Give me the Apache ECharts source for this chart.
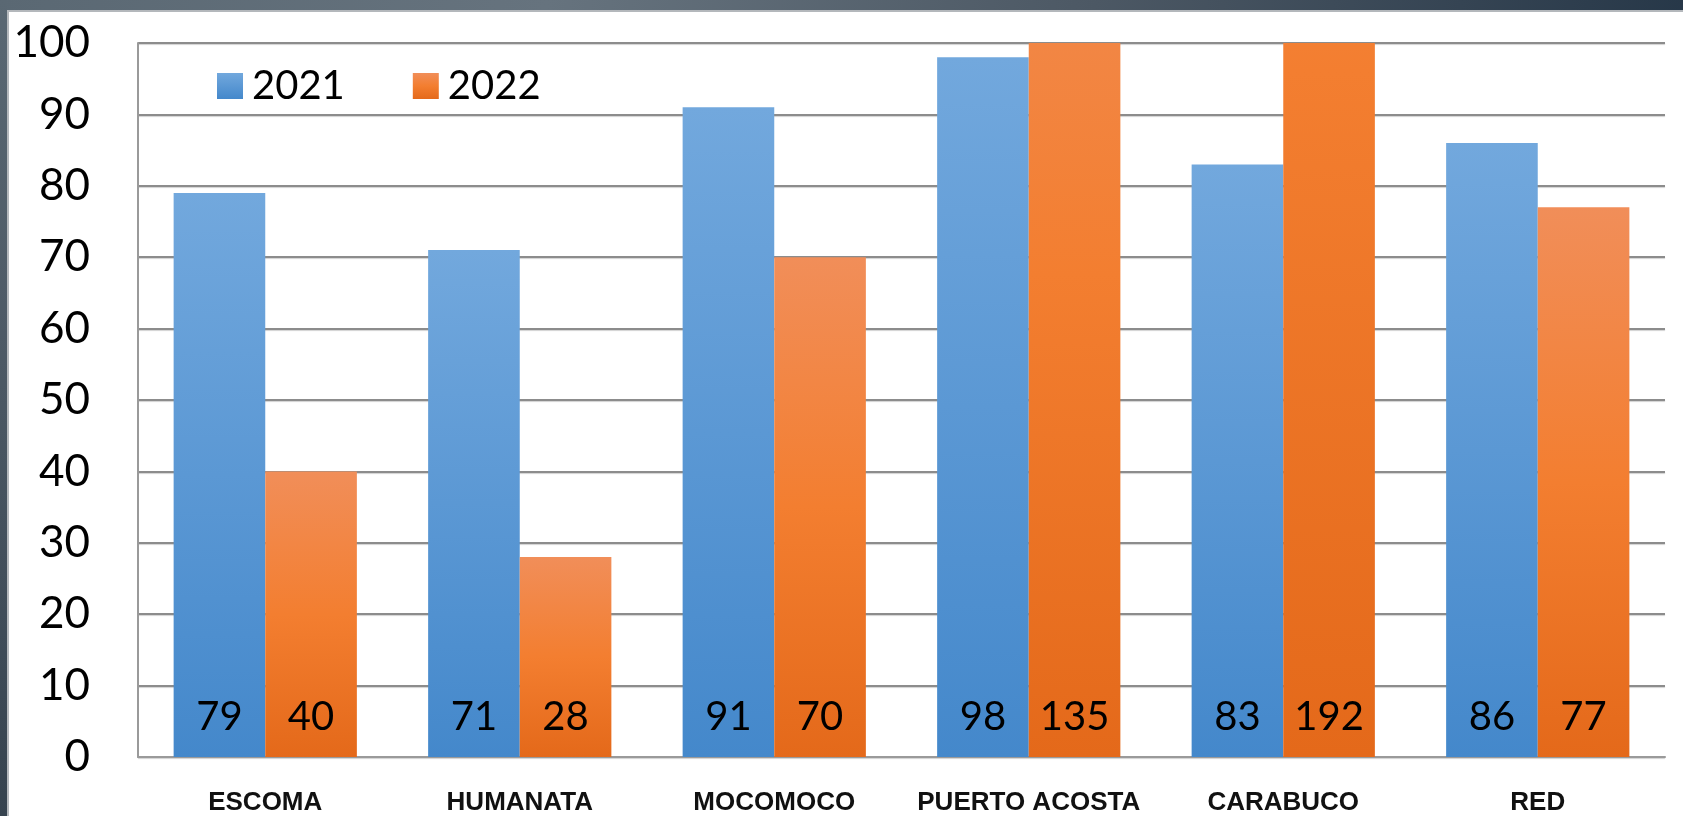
<!DOCTYPE html>
<html>
<head>
<meta charset="utf-8">
<script src="https://cdn.jsdelivr.net/npm/echarts@6/dist/echarts.min.js"></script>
<style>
  html, body { margin: 0; padding: 0; width: 1683px; height: 816px; overflow: hidden; }
  body { background: linear-gradient(100deg, #5A6873 0%, #66737E 30%, #4C5864 60%, #1E3042 100%); position: relative; }
  #panel { position: absolute; left: 7px; top: 10px; right: 0; bottom: 0; background: #ffffff; border-left: 2px solid #B4B8BC; border-top: 2px solid #B4B8BC; }
  #left { position: absolute; left: 0; top: 0; width: 7px; height: 816px; background: linear-gradient(180deg, #5A6873 0%, #4A5763 50%, #36434F 100%); }
  #chart { position: absolute; left: 0; top: 0; width: 1683px; height: 816px; }
</style>
</head>
<body>
<div id="left"></div>
<div id="panel"></div>
<div id="chart"></div>
<script>
const categories = ['ESCOMA', 'HUMANATA', 'MOCOMOCO', 'PUERTO ACOSTA', 'CARABUCO', 'RED'];
const values2021 = [79, 71, 91, 98, 83, 86];
const values2022 = [40, 28, 70, 135, 192, 77];
const seriesNames = ['2021', '2022'];
const yTicks = { min: 0, max: 100, interval: 10 };

// colour stops of each series' vertical gradient (top -> bottom)
const blueStops = [[0, [0x72, 0xA8, 0xDD]], [1, [0x44, 0x88, 0xCB]]];
const orangeStops = [[0, [0xF1, 0x8E, 0x59]], [0.5, [0xF3, 0x7E, 0x30]], [1, [0xE4, 0x69, 0x1A]]];

function colorAt(stops, t) {
  for (let i = 0; i < stops.length - 1; i++) {
    const a = stops[i], b = stops[i + 1];
    if (t >= a[0] && t <= b[0]) {
      const f = (t - a[0]) / (b[0] - a[0]);
      const c = a[1].map((v, k) => Math.round(v + (b[1][k] - v) * f));
      return 'rgb(' + c.join(',') + ')';
    }
  }
  const last = stops[stops.length - 1][1];
  return 'rgb(' + last.join(',') + ')';
}

// gradient for a bar; if the bar is clipped at the axis max, only its lower part is visible
function barGradient(stops, value) {
  const t0 = value > yTicks.max ? (value - yTicks.max) / value : 0;
  const out = [{ offset: 0, color: colorAt(stops, t0) }];
  stops.forEach(s => {
    if (s[0] > t0) out.push({ offset: (s[0] - t0) / (1 - t0), color: colorAt(stops, s[0]) });
  });
  return new echarts.graphic.LinearGradient(0, 0, 0, 1, out);
}

function toItems(values, stops) {
  return values.map(v => ({ value: v, itemStyle: { color: barGradient(stops, v) } }));
}

const labelStyle = {
  show: true,
  position: 'insideBottom',
  distance: 20,
  fontFamily: 'Lato',
  fontSize: 40,
  lineHeight: 40,
  color: '#000000'
};

const chart = echarts.init(document.getElementById('chart'), null, { renderer: 'canvas' });
chart.setOption({
  animation: false,
  backgroundColor: 'transparent',
  grid: { left: 138, right: 18, top: 43, bottom: 55, containLabel: false },
  legend: {
    left: 212,
    top: 61,
    itemWidth: 26,
    itemHeight: 26,
    itemGap: 68,
    icon: 'rect',
    textStyle: { fontFamily: 'Lato', fontSize: 40, color: '#000000', padding: [0, 0, 0, 4] },
    data: [
      { name: seriesNames[0], itemStyle: { color: barGradient(blueStops, 0) } },
      { name: seriesNames[1], itemStyle: { color: barGradient(orangeStops, 0) } }
    ]
  },
  xAxis: {
    type: 'category',
    data: categories,
    axisLine: { show: true, lineStyle: { color: '#9A9A9A', width: 2 } },
    axisTick: { show: false },
    axisLabel: {
      interval: 0,
      margin: 33,
      fontFamily: 'Liberation Sans Narrow, Arial Narrow, Liberation Sans',
      fontWeight: 'bold',
      fontSize: 26,
      color: '#111111'
    }
  },
  yAxis: {
    type: 'value',
    min: yTicks.min,
    max: yTicks.max,
    interval: yTicks.interval,
    axisLine: { show: true, lineStyle: { color: '#9A9A9A', width: 2 } },
    axisTick: { show: false },
    axisLabel: { margin: 48, fontFamily: 'Lato', fontSize: 44, color: '#000000' },
    splitLine: { lineStyle: { color: '#8C8C8C', width: 2, shadowColor: 'rgba(0,0,0,0.18)', shadowOffsetY: 1, shadowBlur: 1 } }
  },
  series: [
    {
      name: seriesNames[0],
      type: 'bar',
      data: toItems(values2021, blueStops),
      barGap: '0%',
      barCategoryGap: '28%',
      clip: true,
      itemStyle: { color: barGradient(blueStops, 0) },
      label: labelStyle
    },
    {
      name: seriesNames[1],
      type: 'bar',
      data: toItems(values2022, orangeStops),
      clip: true,
      itemStyle: { color: barGradient(orangeStops, 0) },
      label: labelStyle
    }
  ]
});
</script>
</body>
</html>
